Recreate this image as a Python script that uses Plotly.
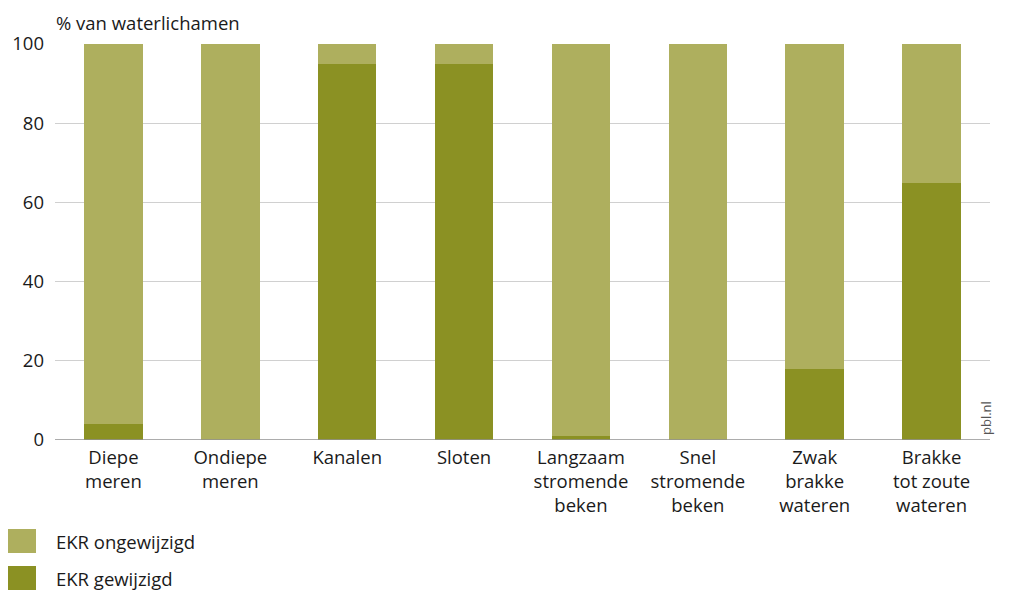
import plotly.graph_objects as go

categories = ["Diepe<br>meren", "Ondiepe<br>meren", "Kanalen", "Sloten",
              "Langzaam<br>stromende<br>beken", "Snel<br>stromende<br>beken",
              "Zwak<br>brakke<br>wateren", "Brakke<br>tot zoute<br>wateren"]
gewijzigd = [4, 0, 95, 95, 1, 0, 18, 65]
ongewijzigd = [96, 100, 5, 5, 99, 100, 82, 35]
series_names = ["EKR ongewijzigd", "EKR gewijzigd"]
y_ticks = [0, 20, 40, 60, 80, 100]

DARK = "#8B9123"
LIGHT = "#AEAF5E"
FONT = "Open Sans"
FS = 18.5

# page body has an 8px margin: build figure in page coordinates shifted by 8
OFF = 8
W, H = 1010 - OFF, 590 - OFF
L, R, T, B = 55 - OFF, 20, 44 - OFF, 150

def px_x(x):
    return (x - OFF - L) / (W - L - R)

def px_y(y):
    return (H - B - (y - OFF)) / (H - B - T)

fig = go.Figure()
fig.add_trace(go.Bar(x=categories, y=gewijzigd, name=series_names[1],
                     marker=dict(color=DARK, line=dict(width=0)), showlegend=False))
fig.add_trace(go.Bar(x=categories, y=ongewijzigd, name=series_names[0],
                     marker=dict(color=LIGHT, line=dict(width=0)), showlegend=False))

fig.update_layout(
    width=W, height=H, barmode="stack", bargap=0.5,
    margin=dict(l=L, r=R, t=T, b=B, autoexpand=False),
    plot_bgcolor="white", paper_bgcolor="white",
    font=dict(family=FONT, size=FS, color="#1a1a1a"),
    xaxis=dict(tickfont=dict(size=FS), ticks="", showgrid=False, showline=False,
               ticklabelstandoff=4, automargin=False),
    yaxis=dict(range=[0, 100], tickvals=y_ticks, showgrid=True, gridcolor="#D0D0D0",
               gridwidth=1, zeroline=False, showline=False, ticks="",
               tickfont=dict(size=FS), ticklabelstandoff=10, automargin=False),
)

# zero line
fig.add_shape(type="line", xref="paper", yref="y", x0=0, x1=1, y0=0, y1=0,
              line=dict(color="#909090", width=1.5))

# y title
fig.add_annotation(text="% van waterlichamen", xref="paper", yref="paper",
                   x=px_x(54), y=px_y(OFF), xanchor="left", yanchor="top",
                   showarrow=False, font=dict(size=FS))

# pbl.nl
fig.add_annotation(text="pbl.nl", xref="paper", yref="paper",
                   x=px_x(986), y=px_y(437), xanchor="center", yanchor="bottom",
                   textangle=-90, showarrow=False, font=dict(size=13, color="#555555"))

# legend (manual)
for i, (name, col) in enumerate([(series_names[0], LIGHT), (series_names[1], DARK)]):
    y0 = 529 + i * 37
    fig.add_shape(type="rect", xref="paper", yref="paper",
                  x0=px_x(3), x1=px_x(36), y0=px_y(y0 + 24), y1=px_y(y0),
                  fillcolor=col, line=dict(width=0))
    fig.add_annotation(text=name, xref="paper", yref="paper",
                       x=px_x(54), y=px_y(y0 + 12.5), xanchor="left", yanchor="middle",
                       showarrow=False, font=dict(size=FS))

fig.write_html("out.html")
